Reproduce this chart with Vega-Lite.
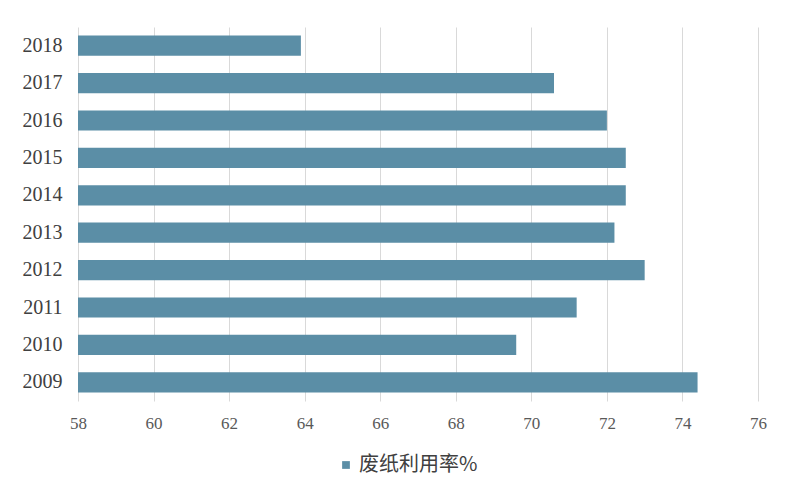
{
  "$schema": "https://vega.github.io/schema/vega-lite/v6.json",
  "autosize": "none",
  "width": 680,
  "height": 374,
  "padding": {"left": 78, "top": 27, "right": 42, "bottom": 99},
  "background": "white",
  "config": {"view": {"stroke": null}},
  "data": {
    "values": [
      {"year": "2018", "rate": 63.9, "series": "废纸利用率%"},
      {"year": "2017", "rate": 70.6, "series": "废纸利用率%"},
      {"year": "2016", "rate": 72.0, "series": "废纸利用率%"},
      {"year": "2015", "rate": 72.5, "series": "废纸利用率%"},
      {"year": "2014", "rate": 72.5, "series": "废纸利用率%"},
      {"year": "2013", "rate": 72.2, "series": "废纸利用率%"},
      {"year": "2012", "rate": 73.0, "series": "废纸利用率%"},
      {"year": "2011", "rate": 71.2, "series": "废纸利用率%"},
      {"year": "2010", "rate": 69.6, "series": "废纸利用率%"},
      {"year": "2009", "rate": 74.4, "series": "废纸利用率%"}
    ]
  },
  "mark": {"type": "bar", "clip": true},
  "encoding": {
    "y": {
      "field": "year",
      "type": "nominal",
      "sort": null,
      "scale": {"paddingInner": 0.46, "paddingOuter": 0.23},
      "axis": {
        "title": null,
        "ticks": false,
        "domain": false,
        "labelFont": "Liberation Serif",
        "labelFontSize": 20,
        "labelColor": "#404040",
        "labelPadding": 16
      }
    },
    "x": {
      "field": "rate",
      "type": "quantitative",
      "scale": {"domain": [58, 76], "zero": false, "nice": false},
      "axis": {
        "title": null,
        "values": [58, 60, 62, 64, 66, 68, 70, 72, 74, 76],
        "domain": false,
        "ticks": false,
        "grid": true,
        "gridColor": "#d9d9d9",
        "gridWidth": 1,
        "labelFlush": false,
        "labelFont": "Liberation Sans Narrow",
        "labelFontSize": 17,
        "labelColor": "#595959",
        "labelPadding": 14
      }
    },
    "color": {
      "field": "series",
      "type": "nominal",
      "scale": {"range": ["#5b8ea6"]},
      "legend": {
        "title": null,
        "orient": "none",
        "legendX": 258,
        "legendY": 428,
        "symbolType": "square",
        "symbolSize": 60,
        "labelFont": "Noto Sans CJK SC",
        "labelFontSize": 20,
        "labelColor": "#404040",
        "labelOffset": 3
      }
    }
  }
}
